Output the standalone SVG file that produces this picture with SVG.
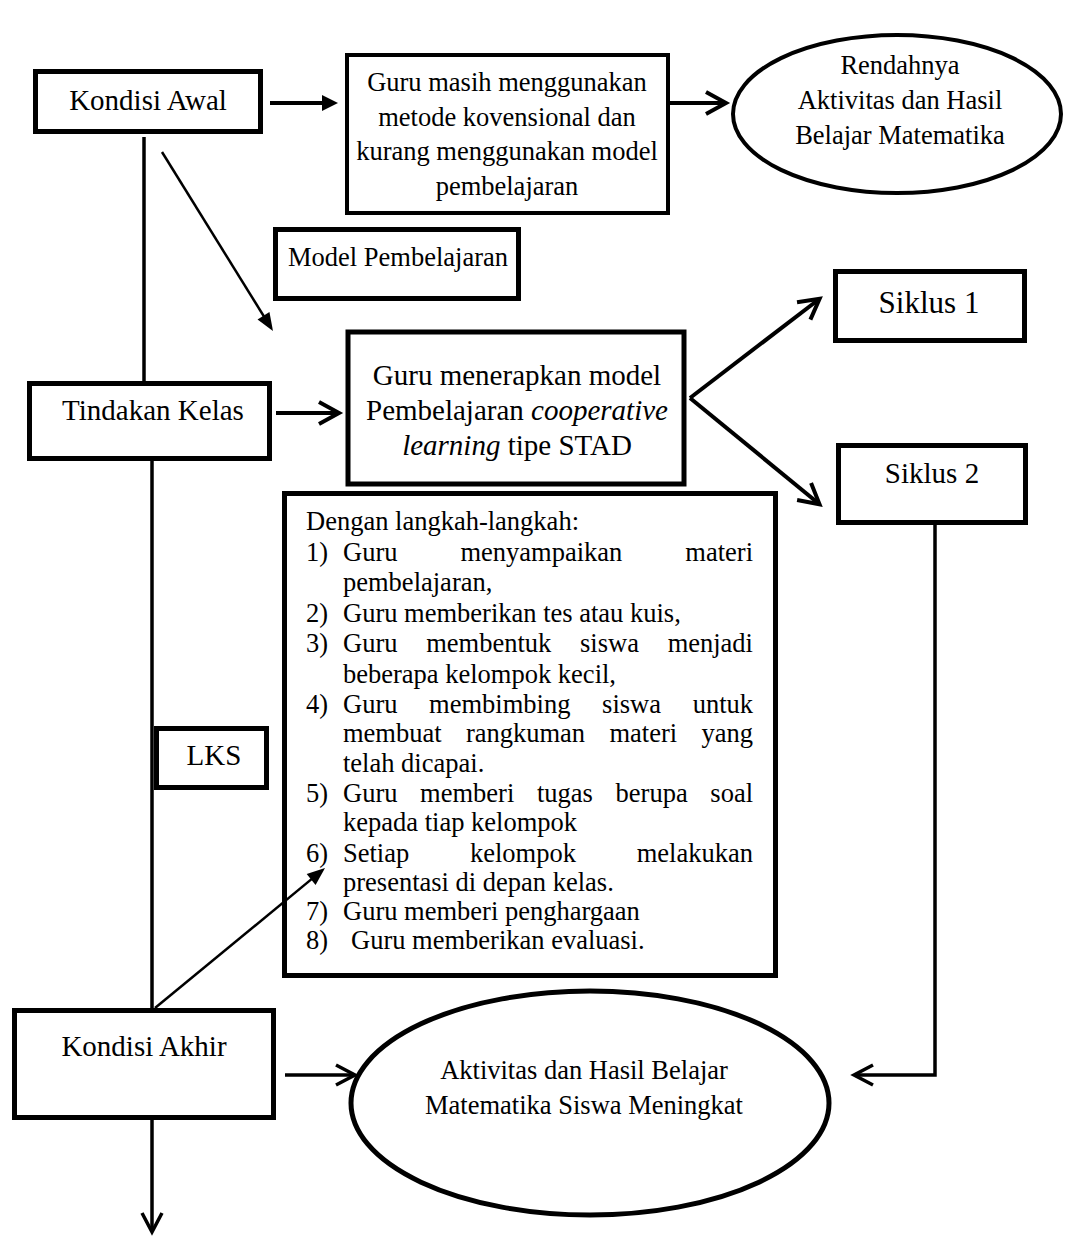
<svg xmlns="http://www.w3.org/2000/svg" width="1065" height="1242" viewBox="0 0 1065 1242">
<style>
  text { font-family: "Liberation Serif", "Times New Roman", serif; fill: #000; }
  .box { fill: #fff; stroke: #000; stroke-width: 5; }
  .box4 { fill: #fff; stroke: #000; stroke-width: 4; }
  .ell { fill: #fff; stroke: #000; }
  .lbl { font-size: 29px; text-anchor: middle; }
  .t26 { font-size: 26.5px; }
  .mid { text-anchor: middle; }
  .end { text-anchor: end; }
  .con { fill: none; stroke: #000; }
</style>
<defs>
  <marker id="triA" markerUnits="userSpaceOnUse" markerWidth="20" markerHeight="20" refX="6" refY="8" orient="auto" overflow="visible">
    <path d="M0,0 L16,8 L0,16 Z" fill="#000"/>
  </marker>
  <marker id="triB" markerUnits="userSpaceOnUse" markerWidth="20" markerHeight="20" refX="8" refY="7" orient="auto" overflow="visible">
    <path d="M0,0 L18,7 L0,14 Z" fill="#000"/>
  </marker>
  <marker id="vee" markerUnits="userSpaceOnUse" markerWidth="26" markerHeight="26" refX="18" refY="11" orient="auto" overflow="visible">
    <path d="M0,0 L20,11 L0,22" fill="none" stroke="#000" stroke-width="4"/>
  </marker>
  <marker id="vee3" markerUnits="userSpaceOnUse" markerWidth="26" markerHeight="26" refX="17" refY="10" orient="auto" overflow="visible">
    <path d="M0,0 L19,10 L0,20" fill="none" stroke="#000" stroke-width="3.5"/>
  </marker>
</defs>
<rect width="1065" height="1242" fill="#fff"/>

<g id="kondisi-awal">
  <rect class="box" x="35.5" y="71.5" width="225" height="60"/>
  <text class="lbl" x="148" y="110">Kondisi Awal</text>
</g>

<g id="metode-konvensional">
  <rect class="box4" x="347" y="55" width="321" height="158"/>
  <text class="t26 mid" x="507" y="91">Guru masih menggunakan</text>
  <text class="t26 mid" x="507" y="126">metode kovensional dan</text>
  <text class="t26 mid" x="507" y="160">kurang menggunakan model</text>
  <text class="t26 mid" x="507" y="195">pembelajaran</text>
</g>

<g id="rendahnya">
  <ellipse class="ell" cx="897" cy="114" rx="164" ry="79" stroke-width="4"/>
  <text class="t26 mid" x="900" y="74">Rendahnya</text>
  <text class="t26 mid" x="900" y="109">Aktivitas dan Hasil</text>
  <text class="t26 mid" x="900" y="144">Belajar Matematika</text>
</g>

<g id="model-pembelajaran">
  <rect class="box" x="275.5" y="229.5" width="243" height="69"/>
  <text class="t26 mid" x="398" y="266">Model Pembelajaran</text>
</g>

<g id="tindakan-kelas">
  <rect class="box" x="29.5" y="383.5" width="240" height="75"/>
  <text class="lbl" x="153" y="420">Tindakan Kelas</text>
</g>

<g id="stad">
  <rect class="box" x="348" y="332" width="336" height="152" stroke-width="6"/>
  <text class="mid" font-size="29" x="517" y="385">Guru menerapkan model</text>
  <text class="mid" font-size="29" x="517" y="420">Pembelajaran <tspan font-style="italic">cooperative</tspan></text>
  <text class="mid" font-size="29" x="517" y="455"><tspan font-style="italic">learning</tspan> tipe STAD</text>
</g>

<g id="siklus-1">
  <rect class="box" x="835.5" y="271.5" width="189" height="69"/>
  <text class="mid" font-size="31" x="929" y="313">Siklus 1</text>
</g>

<g id="siklus-2">
  <rect class="box" x="838.5" y="445.5" width="187" height="77"/>
  <text class="mid" font-size="29" x="932" y="483">Siklus 2</text>
</g>

<g id="langkah">
  <rect class="box" x="284.5" y="493.5" width="491" height="482"/>
  <g class="t26">
    <text x="306" y="530">Dengan langkah-langkah:</text>
    <text x="306" y="561">1)</text>
    <text x="343" y="561">Guru</text><text x="460.4" y="561">menyampaikan</text><text class="end" x="753" y="561">materi</text>
    <text x="343" y="591">pembelajaran,</text>
    <text x="306" y="622">2)</text>
    <text x="343" y="622">Guru memberikan tes atau kuis,</text>
    <text x="306" y="652">3)</text>
    <text x="343" y="652">Guru</text><text x="426.2" y="652">membentuk</text><text x="580" y="652">siswa</text><text class="end" x="753" y="652">menjadi</text>
    <text x="343" y="683">beberapa kelompok kecil,</text>
    <text x="306" y="713">4)</text>
    <text x="343" y="713">Guru</text><text x="429.1" y="713">membimbing</text><text x="602.1" y="713">siswa</text><text class="end" x="753" y="713">untuk</text>
    <text x="343" y="742">membuat</text><text x="465.9" y="742">rangkuman</text><text x="609.5" y="742">materi</text><text class="end" x="753" y="742">yang</text>
    <text x="343" y="772">telah dicapai.</text>
    <text x="306" y="802">5)</text>
    <text x="343" y="802">Guru</text><text x="420.1" y="802">memberi</text><text x="537" y="802">tugas</text><text x="615.6" y="802">berupa</text><text class="end" x="753" y="802">soal</text>
    <text x="343" y="831">kepada tiap kelompok</text>
    <text x="306" y="862">6)</text>
    <text x="343" y="862">Setiap</text><text x="470" y="862">kelompok</text><text class="end" x="753" y="862">melakukan</text>
    <text x="343" y="891">presentasi di depan kelas.</text>
    <text x="306" y="920">7)</text>
    <text x="343" y="920">Guru memberi penghargaan</text>
    <text x="306" y="949">8)</text>
    <text x="351" y="949">Guru memberikan evaluasi.</text>
  </g>
</g>

<g id="lks">
  <rect class="box" x="156.5" y="728.5" width="110" height="59"/>
  <text class="lbl" x="214" y="765">LKS</text>
</g>

<g id="kondisi-akhir">
  <rect class="box" x="14.5" y="1010.5" width="259" height="107"/>
  <text class="lbl" x="144" y="1056">Kondisi Akhir</text>
</g>

<g id="meningkat">
  <ellipse class="ell" cx="590" cy="1103" rx="239" ry="112" stroke-width="5"/>
  <text class="t26 mid" x="584" y="1079">Aktivitas dan Hasil Belajar</text>
  <text class="t26 mid" x="584" y="1114">Matematika Siswa Meningkat</text>
</g>

<g id="connectors">
  <line class="con" x1="270" y1="103" x2="328" y2="103" stroke-width="4" marker-end="url(#triA)"/>
  <line class="con" x1="670" y1="103" x2="724" y2="103" stroke-width="4" marker-end="url(#vee)"/>
  <line class="con" x1="144" y1="137" x2="144" y2="383" stroke-width="3.5"/>
  <line class="con" x1="162" y1="152" x2="267.7" y2="322.5" stroke-width="2.5" marker-end="url(#triB)"/>
  <line class="con" x1="276" y1="413" x2="337" y2="413" stroke-width="4" marker-end="url(#vee)"/>
  <line class="con" x1="690" y1="398" x2="818" y2="300" stroke-width="4" marker-end="url(#vee)"/>
  <line class="con" x1="690" y1="398" x2="818" y2="503" stroke-width="4" marker-end="url(#vee)"/>
  <line class="con" x1="152" y1="459" x2="152" y2="1010" stroke-width="3.5"/>
  <line class="con" x1="155" y1="1008" x2="317.3" y2="874.4" stroke-width="2.5" marker-end="url(#triB)"/>
  <line class="con" x1="285" y1="1075" x2="353" y2="1075" stroke-width="3.5" marker-end="url(#vee3)"/>
  <polyline class="con" points="935,523 935,1075 856,1075" stroke-width="3.5" marker-end="url(#vee3)"/>
  <line class="con" x1="152" y1="1118" x2="152" y2="1230" stroke-width="3.5" marker-end="url(#vee3)"/>
</g>
</svg>
